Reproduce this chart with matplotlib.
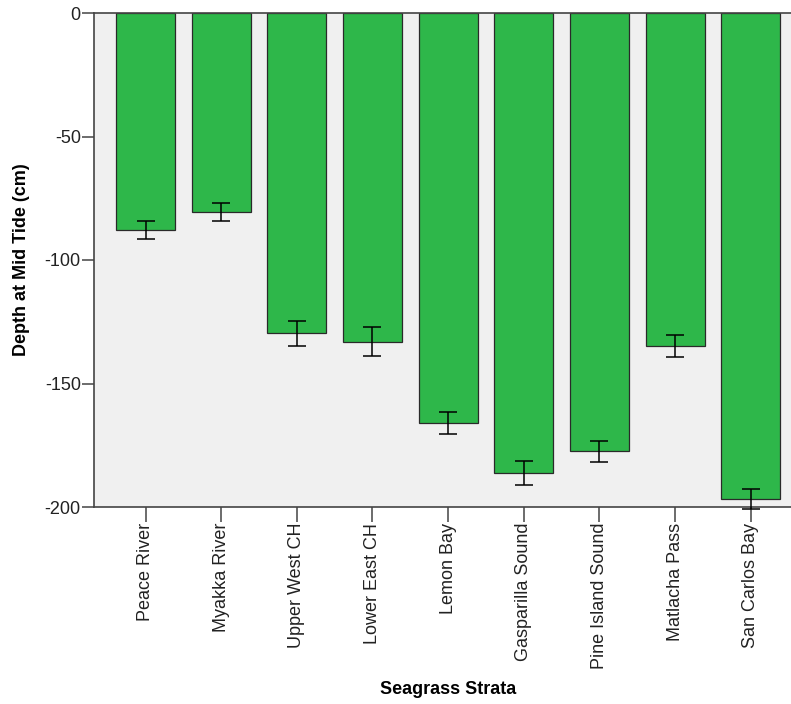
import matplotlib
matplotlib.use("Agg")
import matplotlib.pyplot as plt
import numpy as np

plt.rcParams["font.family"] = ["Liberation Sans", "DejaVu Sans"]

strata = ["Peace River", "Myakka River", "Upper West CH", "Lower East CH",
          "Lemon Bay", "Gasparilla Sound", "Pine Island Sound", "Matlacha Pass",
          "San Carlos Bay"]
depth_mean = [-88.0, -80.6, -129.7, -133.0, -166.0, -186.1, -177.5, -134.8, -196.9]
depth_err = [3.6, 3.6, 5.1, 6.0, 4.6, 4.9, 4.3, 4.3, 4.1]

BAR_GREEN = "#2EB74A"
BG = "#F0F0F0"
SPINE = "#444444"

fig = plt.figure(figsize=(7.91, 7.04), dpi=100)
ax = fig.add_axes([94 / 791, 197 / 704, 697 / 791, 494 / 704])
ax.set_facecolor(BG)

x = np.arange(len(strata))
ax.bar(x, depth_mean, width=0.78, color=BAR_GREEN, edgecolor="#2a2a2a",
       linewidth=0.9, zorder=2)
ax.errorbar(x, depth_mean, yerr=depth_err, fmt="none", ecolor="black",
            elinewidth=1.1, capsize=6.8, capthick=1.1, zorder=3, clip_on=False)

ax.set_xlim(-0.681, 8.533)
ax.set_ylim(-200, 0)
ax.set_yticks([0, -50, -100, -150, -200])
ax.set_yticklabels(["0", "-50", "-100", "-150", "-200"])
ax.set_xticks(x)
ax.set_xticklabels(strata, rotation=90)

ax.tick_params(axis="y", length=8.5, width=1.1, color=SPINE, pad=1,
               labelsize=13, labelcolor="#222222")
ax.tick_params(axis="x", length=10.5, width=1.1, color=SPINE, pad=1,
               labelsize=13, labelcolor="#222222")

for side in ["left", "bottom", "top"]:
    ax.spines[side].set_color(SPINE)
    ax.spines[side].set_linewidth(1.2)
ax.spines["right"].set_visible(False)

fig.text(22 / 791, 1 - 260 / 704, "Depth at Mid Tide (cm)", rotation=90,
         ha="center", va="center", fontsize=13, fontweight="bold")
fig.text(448 / 791, 1 - 690 / 704, "Seagrass Strata", ha="center", va="center",
         fontsize=13, fontweight="bold")

fig.savefig("out.png", dpi=100)
